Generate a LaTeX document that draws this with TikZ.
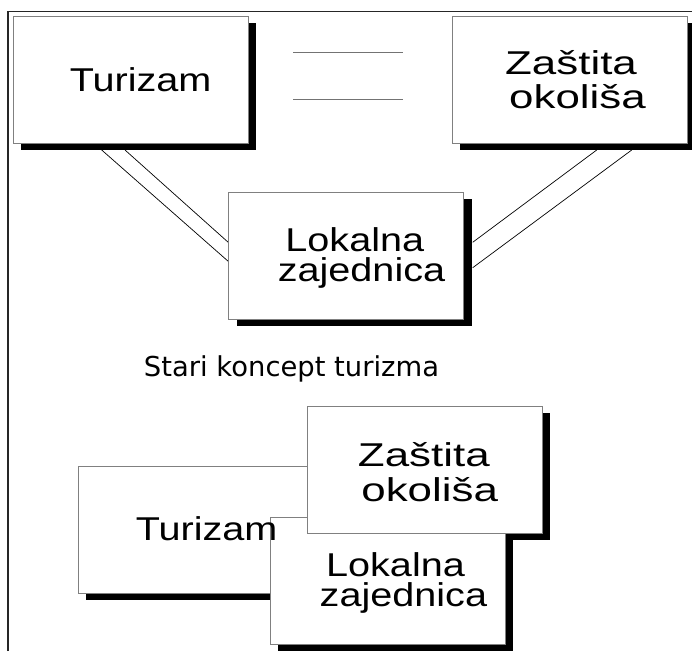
\documentclass[tikz,border=0pt]{standalone}
\usepackage{fontspec}
\newfontfamily\fa[FakeStretch=1.2]{Liberation Sans}
\newfontfamily\fz[FakeStretch=1.33]{Liberation Sans}
\newfontfamily\fs{DejaVu Sans}
\begin{document}
\begin{tikzpicture}[x=1pt,y=-1pt,
  boxst/.style={draw=black!50,line width=0.9pt,fill=white,inner sep=0pt,
    minimum width=235pt,minimum height=127pt},
  shadowst/.style={fill=black,inner sep=0pt,minimum width=235pt,minimum height=127pt},
  txta/.style={inner sep=0pt,anchor=base,font=\fa\fontsize{33}{33}\selectfont},
  txtz/.style={inner sep=0pt,anchor=base,font=\fz\fontsize{33}{33}\selectfont},
  txts/.style={inner sep=0pt,anchor=base,font=\fs\fontsize{27.4}{30}\selectfont},
  frame/.style={draw=black!85,line width=1.2pt},
  thinline/.style={draw=black,line width=0.7pt},
  hline/.style={draw=black!55,line width=0.9pt}]
\clip (0,0) rectangle (692,651);
\fill[white] (0,0) rectangle (692,651);
% frame
\coordinate (fb) at (8,651);
\coordinate (fc) at (8,11.5);
\coordinate (fr) at (692,11.5);
\draw[frame] (fb) -- (fc) -- (fr);
% connectors (top)
\coordinate (a1) at (101.7,150);
\coordinate (b1) at (229,262);
\coordinate (a2) at (125,150);
\coordinate (b2) at (229,243);
\coordinate (c1) at (596.7,150);
\coordinate (d1) at (472.7,242.3);
\coordinate (c2) at (631.7,150);
\coordinate (d2) at (472.7,267.7);
\draw[thinline] (a1) -- (b1);
\draw[thinline] (a2) -- (b2);
\draw[thinline] (c1) -- (d1);
\draw[thinline] (c2) -- (d2);
\coordinate (h1a) at (293,52);
\coordinate (h1b) at (403,52);
\coordinate (h2a) at (293,99);
\coordinate (h2b) at (403,99);
\draw[hline] (h1a) -- (h1b);
\draw[hline] (h2a) -- (h2b);
% top boxes
\node[shadowst] (t1s) at (138.5,86.5) {};
\node[boxst] (t1) at (130.5,79.5) {};
\node[shadowst] (z1s) at (577.5,86.5) {};
\node[boxst] (z1) at (569.5,79.5) {};
\node[shadowst] (l1s) at (354,262.5) {};
\node[boxst] (l1) at (346,255.5) {};
\node[txta] (t1t) at (140.7,91.7) {Turizam};
\node[txtz] (z1t1) at (571,74) {Zaštita};
\node[txtz] (z1t2) at (577.5,108) {okoliša};
\node[txta] (l1t1) at (354.8,251.7) {Lokalna};
\node[txta] (l1t2) at (361.5,281.7) {zajednica};
% caption
\node[txts] (cap) at (291.5,376.7) {Stari koncept turizma};
% bottom boxes
\node[shadowst] (t2s) at (203.5,536.5) {};
\node[boxst] (t2) at (195.5,529.5) {};
\node[shadowst] (z2s) at (432.5,476.5) {};
\node[shadowst] (l2s) at (395.5,587.5) {};
\node[boxst] (l2) at (387.5,580.5) {};
\node[boxst] (z2) at (424.5,469.5) {};
\node[txta] (t2t) at (206.7,540) {Turizam};
\node[txtz] (z2t1) at (423.8,466) {Zaštita};
\node[txtz] (z2t2) at (429.7,501.7) {okoliša};
\node[txta] (l2t1) at (395.5,576.7) {Lokalna};
\node[txta] (l2t2) at (403.4,606) {zajednica};
\end{tikzpicture}
\end{document}
